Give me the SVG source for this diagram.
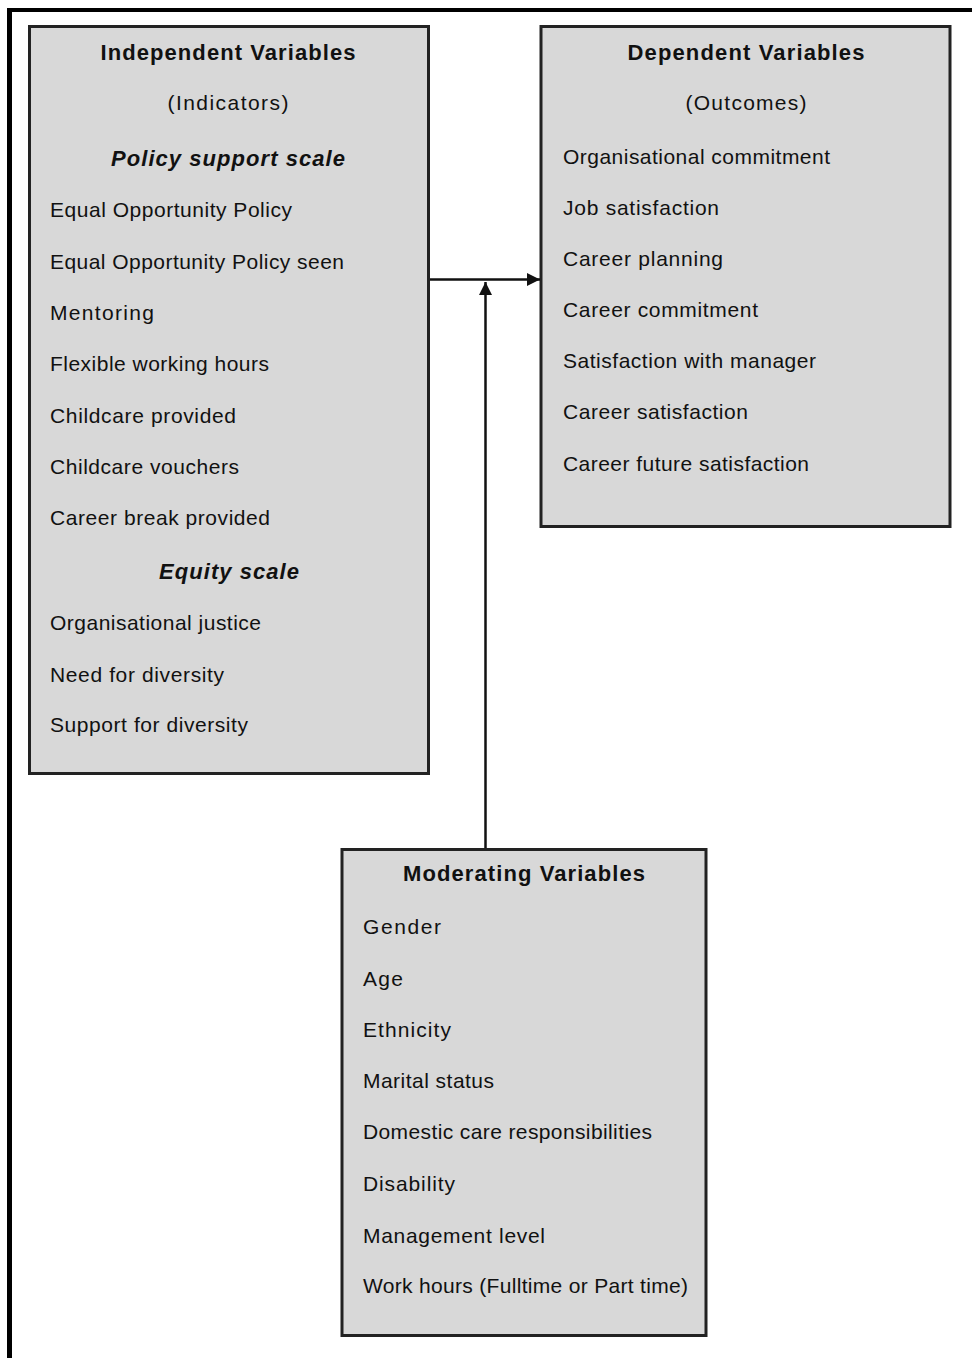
<svg xmlns="http://www.w3.org/2000/svg" width="972" height="1358" viewBox="0 0 972 1358">
  <style>
    .box { fill: #d8d8d8; stroke: #222; stroke-width: 3; }
    .title { font-family: "Liberation Sans", Arial, sans-serif; font-size: 22px; font-weight: bold; fill: #111; text-anchor: middle; }
    .sub { font-family: "Liberation Sans", Arial, sans-serif; font-size: 21px; fill: #111; text-anchor: middle; }
    .head { font-family: "Liberation Sans", Arial, sans-serif; font-size: 22px; font-weight: bold; font-style: italic; fill: #111; text-anchor: middle; }
    .item { font-family: "Liberation Sans", Arial, sans-serif; font-size: 21px; fill: #111; }
    .link { stroke: #111; stroke-width: 2.5; fill: none; }
  </style>
  <defs>
    <marker id="arrow" markerUnits="userSpaceOnUse" markerWidth="14" markerHeight="13" refX="13" refY="6.5" orient="auto">
      <path d="M0,0 L13,6.5 L0,13 Z" fill="#111"/>
    </marker>
  </defs>
  <rect width="972" height="1358" fill="#fff"/>

  <!-- page frame: top and left rules only -->
  <g id="frame">
    <rect x="7" y="8" width="965" height="4" fill="#000"/>
    <rect x="7" y="8" width="5" height="1350" fill="#000"/>
  </g>

  <g id="independent">
    <rect class="box" x="29.5" y="26.5" width="399" height="747"/>
    <text class="title" x="228" y="60" textLength="255">Independent Variables</text>
    <text class="sub" x="228" y="110" textLength="121">(Indicators)</text>
    <text class="head" x="228" y="166" textLength="234">Policy support scale</text>
    <text class="item" x="50" y="217" textLength="242">Equal Opportunity Policy</text>
    <text class="item" x="50" y="269" textLength="294">Equal Opportunity Policy seen</text>
    <text class="item" x="50" y="320" textLength="104">Mentoring</text>
    <text class="item" x="50" y="371" textLength="219">Flexible working hours</text>
    <text class="item" x="50" y="423" textLength="186">Childcare provided</text>
    <text class="item" x="50" y="474" textLength="189">Childcare vouchers</text>
    <text class="item" x="50" y="525" textLength="220">Career break provided</text>
    <text class="head" x="229" y="579" textLength="140">Equity scale</text>
    <text class="item" x="50" y="630" textLength="211">Organisational justice</text>
    <text class="item" x="50" y="682" textLength="174">Need for diversity</text>
    <text class="item" x="50" y="732" textLength="198">Support for diversity</text>
  </g>

  <g id="dependent">
    <rect class="box" x="541" y="26.5" width="409" height="500"/>
    <text class="title" x="746" y="60" textLength="237">Dependent Variables</text>
    <text class="sub" x="746" y="110" textLength="121">(Outcomes)</text>
    <text class="item" x="563" y="164" textLength="267">Organisational commitment</text>
    <text class="item" x="563" y="215" textLength="156">Job satisfaction</text>
    <text class="item" x="563" y="266" textLength="160">Career planning</text>
    <text class="item" x="563" y="317" textLength="195">Career commitment</text>
    <text class="item" x="563" y="368" textLength="253">Satisfaction with manager</text>
    <text class="item" x="563" y="419" textLength="185">Career satisfaction</text>
    <text class="item" x="563" y="471" textLength="246">Career future satisfaction</text>
  </g>

  <g id="moderating">
    <rect class="box" x="342" y="849.5" width="364" height="486"/>
    <text class="title" x="524" y="881" textLength="242">Moderating Variables</text>
    <text class="item" x="363" y="934" textLength="78">Gender</text>
    <text class="item" x="363" y="986" textLength="40">Age</text>
    <text class="item" x="363" y="1037" textLength="88">Ethnicity</text>
    <text class="item" x="363" y="1088" textLength="131">Marital status</text>
    <text class="item" x="363" y="1139" textLength="289">Domestic care responsibilities</text>
    <text class="item" x="363" y="1191" textLength="92">Disability</text>
    <text class="item" x="363" y="1243" textLength="182">Management level</text>
    <text class="item" x="363" y="1293" textLength="325">Work hours (Fulltime or Part time)</text>
  </g>

  <g id="connectors">
    <line class="link" x1="430" y1="279.5" x2="540" y2="279.5" marker-end="url(#arrow)"/>
    <line class="link" x1="485.5" y1="848" x2="485.5" y2="282" marker-end="url(#arrow)"/>
  </g>
</svg>
